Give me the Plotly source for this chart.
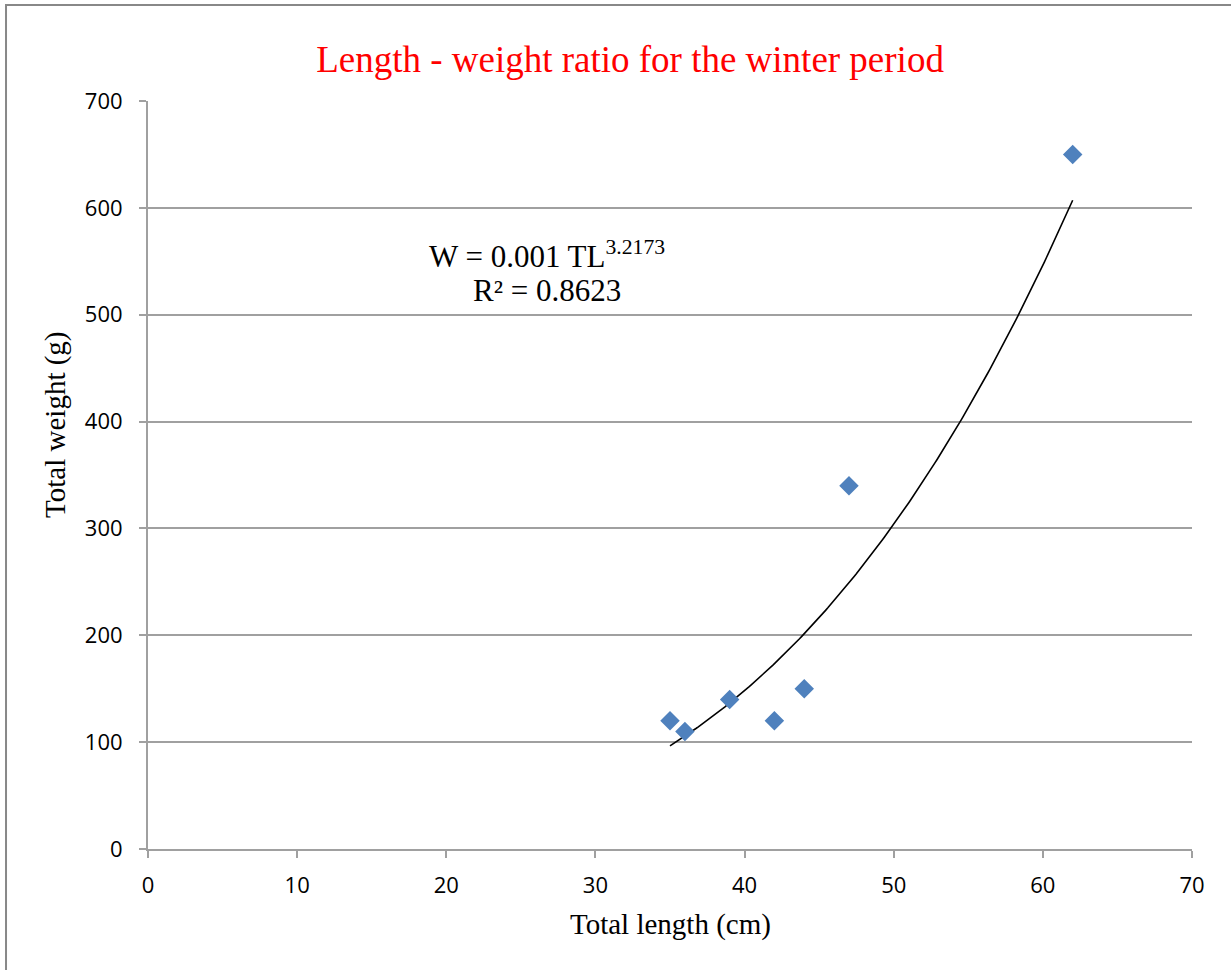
import numpy as np
import plotly.graph_objects as go

total_length = [35, 36, 39, 42, 44, 47, 62]
total_weight = [120, 110, 140, 120, 150, 340, 650]
x_ticks = [0, 10, 20, 30, 40, 50, 60, 70]
y_ticks = [0, 100, 200, 300, 400, 500, 600, 700]

# power trendline (as Excel does: log-log least squares)
lx = np.log(total_length)
ly = np.log(total_weight)
b, ln_a = np.polyfit(lx, ly, 1)
a = np.exp(ln_a)
tx = np.linspace(min(total_length), max(total_length), 200)
ty = a * tx ** b

fig = go.Figure()
fig.add_trace(go.Scatter(x=tx, y=ty, mode="lines",
                         line=dict(color="black", width=1.6), showlegend=False,
                         hoverinfo="skip"))
fig.add_trace(go.Scatter(x=total_length, y=total_weight, mode="markers",
                         marker=dict(symbol="diamond", size=15, color="#4f81bd",
                                     line=dict(width=0)),
                         showlegend=False))

serif = "Liberation Serif, Times New Roman, serif"
sans = "Open Sans"
grey = "#a0a0a0"

fig.update_layout(
    width=1231, height=970,
    margin=dict(l=148, r=39, t=101, b=121),
    paper_bgcolor="white", plot_bgcolor="white",
    title=dict(text="Length - weight ratio for the winter period",
               font=dict(family=serif, size=37, color="red"),
               x=0.5118, xanchor="center", y=0.939, yanchor="middle"),
    xaxis=dict(range=[0, 70], tickvals=x_ticks, showgrid=False, zeroline=False,
               showline=True, linecolor=grey, linewidth=2,
               ticks="outside", ticklen=7, tickcolor=grey, tickwidth=2,
               ticklabelstandoff=9,
               tickfont=dict(family=sans, size=22, color="black")),
    yaxis=dict(range=[0, 700], tickvals=y_ticks, showgrid=True, gridcolor=grey,
               gridwidth=2, zeroline=False,
               showline=True, linecolor=grey, linewidth=2,
               ticks="outside", ticklen=7, tickcolor=grey, tickwidth=2,
               ticklabelstandoff=12,
               tickfont=dict(family=sans, size=22, color="black")),
    annotations=[
        dict(x=26.75, y=556, xref="x", yref="y",
             text="W = 0.001 TL<sup>3.2173</sup>",
             showarrow=False, xanchor="center", yanchor="middle",
             font=dict(family=serif, size=31, color="black")),
        dict(x=26.75, y=523, xref="x", yref="y",
             text="R² = 0.8623",
             showarrow=False, xanchor="center", yanchor="middle",
             font=dict(family=serif, size=31, color="black")),
        dict(x=0.5, y=-0.1016, xref="paper", yref="paper",
             text="Total length (cm)", showarrow=False,
             xanchor="center", yanchor="middle",
             font=dict(family=serif, size=29, color="black")),
        dict(x=-0.0881, y=0.567, xref="paper", yref="paper",
             text="Total weight (g)", showarrow=False, textangle=-90,
             xanchor="center", yanchor="middle",
             font=dict(family=serif, size=29, color="black")),
    ],
    shapes=[dict(type="rect", xref="paper", yref="paper",
                 x0=-0.136, x1=1.06, y0=-0.2, y1=1.1283,
                 line=dict(color="#888888", width=2), fillcolor="rgba(0,0,0,0)", layer="below")],
)

fig.write_html("out.html", config={"displayModeBar": False},
               post_script="document.body.style.margin='0';")
